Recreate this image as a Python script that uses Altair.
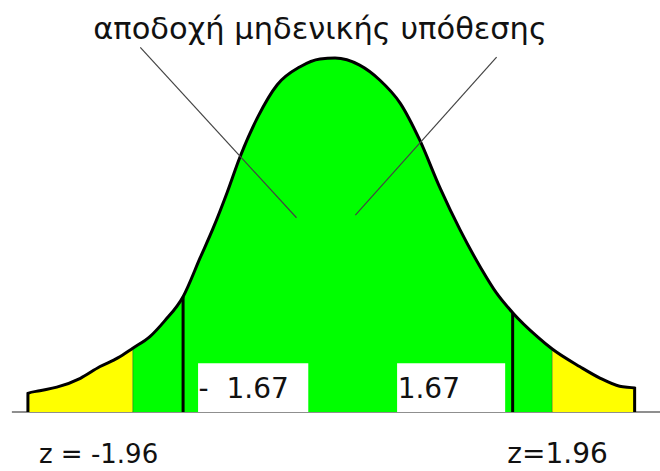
import altair as alt
import pandas as pd

# Curve (z units, density units)
curve_z = [-2.87, -2.76, -2.60, -2.38, -2.20, -2.03, -1.89, -1.73, -1.59, -1.42, -1.26, -1.14,
           -1.01, -0.89, -0.72, -0.54, -0.33, -0.14, 0.00, 0.23, 0.42, 0.61, 0.79, 0.98,
           1.17, 1.36, 1.51, 1.66, 1.89, 2.03, 2.29, 2.48, 2.66, 2.80]
curve_d = [0.021, 0.024, 0.028, 0.038, 0.051, 0.061, 0.072, 0.085, 0.103, 0.130, 0.174, 0.207,
           0.247, 0.287, 0.333, 0.369, 0.389, 0.398, 0.399, 0.391, 0.374, 0.348, 0.307, 0.253,
           0.205, 0.163, 0.134, 0.112, 0.085, 0.071, 0.051, 0.038, 0.029, 0.027]

crit_z = [-1.89, 2.03]          # drawn yellow/green boundaries (z = ±1.96)
stat_z = [-1.42, 1.66]          # drawn black lines (±1.67)
stat_d = [0.130, 0.112]
stat_labels = ["- \u00a01.67", "1.67"]
box_z1 = [-1.28, 0.58]
box_z2 = [-0.25, 1.59]
box_top = 0.055

title_text = "αποδοχή μηδενικής υπόθεσης"
bottom_labels = ["z = -1.96", "z=1.96"]
bottom_z = [-2.21, 2.08]
bottom_size = [26, 28]

pointer_z1 = [-1.82, 1.51]
pointer_d1 = [0.411, 0.400]
pointer_z2 = [-0.36, 0.19]
pointer_d2 = [0.219, 0.222]

GREEN = "#00ff00"
YELLOW = "#ffff00"

xs = alt.Scale(domain=[-3.131, 3.037])
ys = alt.Scale(domain=[-0.0665, 0.4645])


def segment(lo, hi):
    pts = [(z, d) for z, d in zip(curve_z, curve_d) if lo <= z <= hi]
    return pd.DataFrame({"z": [p[0] for p in pts], "d": [p[1] for p in pts],
                         "d0": [0.0] * len(pts)})


base_x = alt.X("z:Q", scale=xs, axis=None)
base_y = alt.Y("d:Q", scale=ys, axis=None)


def area_layer(df, colour):
    return alt.Chart(df).mark_area(interpolate="monotone", color=colour).encode(
        x=base_x, y=base_y, y2="d0:Q"
    )


area_left = area_layer(segment(-9, crit_z[0]), YELLOW)
area_mid = area_layer(segment(crit_z[0], crit_z[1]), GREEN)
area_right = area_layer(segment(crit_z[1], 9), YELLOW)

outline_rows = [{"i": 0, "z": curve_z[0], "d": 0.0}]
for k, (z, d) in enumerate(zip(curve_z, curve_d)):
    outline_rows.append({"i": k + 1, "z": z, "d": d})
outline_rows.append({"i": len(curve_z) + 1, "z": curve_z[-1], "d": 0.0})
outline_df = pd.DataFrame(outline_rows)

baseline = alt.Chart(pd.DataFrame({"z": [-3.02], "z2": [3.037], "d": [0.0]})).mark_rule(
    color="#8f8f8f", strokeWidth=2
).encode(x=base_x, x2="z2:Q", y=base_y)

boxes_df = pd.DataFrame({"z": box_z1, "z2": box_z2, "d": [box_top] * 2, "d2": [0.0] * 2})
boxes = alt.Chart(boxes_df).mark_rect(color="white").encode(
    x=base_x, x2="z2:Q", y=base_y, y2="d2:Q"
)

stat_df = pd.DataFrame({"z": stat_z, "d": stat_d, "d0": [0.0, 0.0], "label": stat_labels,
                        "tz": [box_z1[0] + 0.005, box_z1[1] + 0.005], "ty": [0.016, 0.016]})
stat_lines = alt.Chart(stat_df).mark_rule(color="black", strokeWidth=3).encode(
    x=base_x, y=base_y, y2="d0:Q"
)
stat_text = alt.Chart(stat_df).mark_text(
    align="left", baseline="alphabetic", font="DejaVu Sans", fontSize=28, color="#111"
).encode(x=alt.X("tz:Q", scale=xs, axis=None), y=alt.Y("ty:Q", scale=ys, axis=None), text="label:N")

outline = alt.Chart(outline_df).mark_line(color="black", strokeWidth=3, interpolate="monotone").encode(
    x=base_x, y=base_y, order="i:Q"
)

edge_df = pd.DataFrame({"z": [crit_z[0], crit_z[1]], "d": [0.072, 0.071], "d0": [0.0, 0.0]})
edges = alt.Chart(edge_df).mark_rule(color="#2a2a00", strokeWidth=0.8, opacity=0.5).encode(
    x=base_x, y=base_y, y2="d0:Q"
)

ptr_df = pd.DataFrame({"z": pointer_z1, "d": pointer_d1, "z2": pointer_z2, "d2": pointer_d2})
pointers = alt.Chart(ptr_df).mark_rule(color="#444444", strokeWidth=1.2).encode(
    x=base_x, y=base_y, x2="z2:Q", y2="d2:Q"
)

title_df = pd.DataFrame({"z": [-0.14], "d": [0.431], "t": [title_text]})
title = alt.Chart(title_df).mark_text(
    font="DejaVu Sans", fontSize=30.5, color="#111", baseline="middle", align="center"
).encode(x=base_x, y=base_y, text="t:N")

bottom_df = pd.DataFrame({"z": bottom_z, "d": [-0.049] * 2, "t": bottom_labels, "fs": bottom_size})
bottom = alt.Chart(bottom_df).mark_text(
    font="DejaVu Sans", color="#111", baseline="middle", align="center"
).encode(x=base_x, y=base_y, text="t:N", size=alt.Size("fs:Q", scale=None, legend=None))

chart = alt.layer(
    baseline, area_left, area_mid, area_right, edges, boxes, stat_text, stat_lines, outline,
    pointers, title, bottom
).properties(
    width=660, height=471, autosize=alt.AutoSizeParams(type="none"), padding=0,
    background="white"
).configure_view(stroke=None)

chart.save("out.html", embed_options={"renderer": "svg", "actions": False})
